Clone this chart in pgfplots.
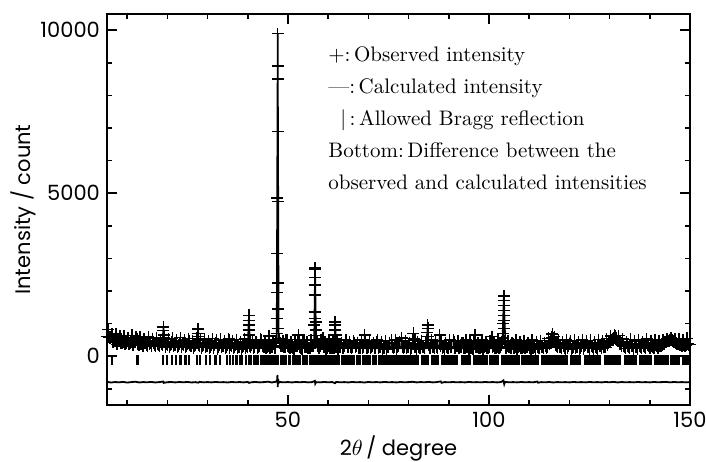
\documentclass[border=0pt]{standalone}
\usepackage{fontspec}
\usepackage{pgfplots}
\pgfplotsset{compat=1.18}
\newfontfamily\labfont{Poppins}

% observed intensity
\pgfplotstableread{
x y
5.0 595
5.5 575
6.0 575
6.5 430
7.0 450
7.5 365
8.0 460
8.5 395
9.0 430
9.5 365
10.0 455
10.5 370
11.0 420
11.5 355
12.0 430
12.5 480
12.6 540
12.7 470
13.0 330
13.5 375
14.0 305
14.5 400
15.0 325
15.5 363
16.0 302
16.5 395
17.0 313
17.5 367
18.0 305
18.5 383
18.95 540
19.0 780
19.05 900
19.1 650
19.15 450
19.5 285
20.0 333
20.5 267
21.0 365
21.2 430
21.5 303
22.0 342
22.5 280
23.0 373
23.5 292
24.0 345
24.5 283
25.0 362
25.4 470
25.5 330
26.0 313
26.5 247
27.0 345
27.55 500
27.6 700
27.65 830
27.7 600
27.75 420
28.0 322
28.5 260
29.0 353
29.5 272
30.0 325
30.5 264
31.0 343
31.5 247
32.0 400
32.5 230
33.0 329
33.5 268
34.0 307
34.5 246
35.0 340
35.3 480
35.5 259
36.0 313
36.5 252
37.0 331
37.2 410
37.5 235
38.0 284
38.5 218
39.0 317
39.5 256
40.0 295
40.15 500
40.2 800
40.25 1100
40.3 1250
40.35 960
40.4 650
40.5 320
41.0 328
41.5 247
42.0 420
42.5 240
43.0 319
43.5 500
44.0 273
44.5 260
45.0 307
45.25 450
45.3 620
45.35 400
45.5 246
46.0 286
46.5 380
47.0 450
47.2 700
47.3 1150
47.35 1950
47.38 3150
47.4 4850
47.42 6900
47.44 8500
47.46 9900
47.48 8900
47.5 4750
47.52 2250
47.55 1450
47.6 850
47.7 550
48.0 400
48.5 300
49.0 268
49.5 500
50.0 302
50.5 242
51.0 281
51.5 221
52.0 315
52.5 450
52.6 650
52.7 420
53.0 289
53.5 229
54.0 500
54.5 280
55.0 263
55.5 250
56.0 297
56.55 640
56.6 950
56.65 1360
56.7 2180
56.73 2650
56.75 2700
56.78 2420
56.8 1870
56.85 1160
56.9 1050
56.95 800
57.0 500
57.5 300
58.0 310
58.6 450
58.7 550
59.0 284
59.5 224
60.0 303
60.5 260
61.0 258
61.65 520
61.7 800
61.75 1050
61.8 950
61.85 650
61.9 430
62.0 292
62.5 232
63.0 272
63.5 250
64.0 306
64.5 480
65.0 290
65.5 280
66.0 270
66.5 400
67.0 299
67.5 250
68.0 254
68.5 240
69.0 500
69.1 650
69.2 450
69.5 260
70.0 267
70.5 240
71.0 302
71.5 250
72.0 430
72.5 240
73.0 295
73.5 230
74.0 250
74.5 220
75.0 285
75.7 400
75.8 480
76.0 270
76.5 265
77.0 230
77.5 300
78.2 450
78.3 560
78.5 280
79.0 275
79.5 240
80.0 295
80.5 230
81.1 480
81.2 700
81.3 520
81.5 290
82.0 220
82.5 285
83.0 250
83.5 265
84.0 240
84.6 480
84.7 720
84.75 950
84.8 850
84.85 600
85.0 330
85.5 250
86.0 275
86.5 240
87.0 295
87.7 450
87.75 650
87.8 480
88.0 320
88.5 250
89.0 220
89.5 285
90.0 250
90.5 265
91.2 480
91.5 240
92.0 300
92.5 250
93.0 275
93.5 400
94.0 240
94.5 295
95.0 230
95.5 250
96.0 220
96.4 450
96.5 650
96.6 420
97.0 285
97.5 250
98.0 265
98.5 230
99.0 300
99.5 240
100.0 275
100.7 450
100.8 600
101.0 320
101.5 240
102.0 295
102.5 260
103.0 350
103.5 560
103.55 700
103.6 1000
103.63 1250
103.66 1550
103.7 1850
103.73 1700
103.76 1400
103.8 1100
103.85 850
104.0 450
104.5 300
105.0 285
105.5 250
106.0 380
106.5 265
107.0 230
107.5 300
108.0 240
108.5 275
109.0 240
109.5 295
110.0 350
110.5 230
111.0 250
111.5 220
112.0 285
112.5 250
113.0 265
113.5 240
114.0 300
114.5 290
115.0 380
115.6 480
115.7 580
115.8 680
115.9 560
116.0 450
116.5 340
117.0 280
117.5 285
118.0 240
118.5 305
119.0 230
119.5 260
120.0 380
120.5 220
121.0 295
121.5 235
122.0 275
122.5 230
123.0 310
123.5 230
124.0 350
124.5 285
125.0 230
125.5 310
126.0 230
126.5 265
127.0 220
127.5 302
128.0 245
128.5 295
129.0 265
129.5 340
130.0 420
130.5 500
131.0 570
131.2 640
131.3 620
131.4 600
131.5 560
132.0 470
132.5 380
133.0 320
133.5 310
134.0 243
134.5 299
135.0 240
135.5 321
136.0 227
136.5 278
137.0 230
137.5 315
138.0 256
138.5 297
139.0 238
139.5 334
140.0 255
140.5 311
141.0 252
141.5 333
142.0 239
142.5 300
143.0 330
143.5 380
144.0 420
144.5 470
145.0 500
145.5 480
146.0 440
146.5 400
147.0 360
147.5 340
148.0 320
148.5 350
149.0 330
149.5 370
150.0 350
}\obsdata

% observed intensity, intermediate steps
\pgfplotstableread{
x y
5.25 810
5.75 570
6.25 670
6.75 450
7.25 680
7.75 470
8.25 612
8.75 418
9.25 632
9.75 418
10.25 562
10.75 388
11.25 634
11.75 430
12.25 576
12.75 382
13.25 598
13.75 383
14.25 528
14.75 350
15.25 590
15.75 388
16.25 536
16.75 344
17.25 563
17.75 351
18.25 499
18.75 328
19.25 576
19.75 374
20.25 523
20.75 331
21.25 550
21.75 338
22.25 486
22.75 314
23.25 563
23.75 361
24.25 509
24.75 318
25.25 536
25.75 324
26.25 473
26.75 301
27.25 550
27.85 348
28.25 497
28.75 305
29.25 523
29.75 311
30.25 460
30.75 289
31.25 538
31.75 337
32.25 486
32.75 295
33.25 514
33.75 303
34.25 452
34.75 281
35.25 530
35.75 329
36.25 478
36.75 287
37.25 506
37.75 295
38.25 444
38.75 273
39.25 522
39.75 321
40.6 470
40.75 279
41.25 498
41.75 287
42.25 436
42.75 265
43.25 514
43.75 313
44.25 463
44.75 272
45.15 492
45.75 281
46.25 431
46.75 260
47.9 510
48.25 309
48.75 459
49.25 268
49.75 488
50.25 277
50.75 427
51.25 256
51.75 506
52.25 305
52.75 455
53.25 264
53.75 484
54.25 273
54.75 423
55.25 252
55.75 502
56.25 301
57.25 451
57.75 260
58.25 480
58.85 269
59.25 419
59.75 248
60.25 498
60.75 297
61.25 447
61.5 256
62.25 476
62.75 266
63.25 415
63.75 245
64.25 495
64.75 295
65.25 445
65.75 255
66.25 475
66.75 265
67.25 415
67.75 245
68.25 495
68.75 295
69.25 445
69.75 255
70.25 475
70.75 265
71.25 415
71.75 245
72.25 495
72.75 295
73.25 445
73.75 255
74.25 475
74.75 265
75.25 415
76.25 245
76.75 495
77.25 295
77.75 445
78.7 255
79.25 475
79.75 265
80.25 415
80.75 245
81.6 495
81.75 295
82.25 445
82.75 255
83.25 475
83.75 265
84.25 415
85.25 245
85.75 495
86.25 295
86.75 445
87.25 255
88.25 475
88.75 265
89.25 415
89.75 245
90.25 495
90.75 295
91.35 445
91.75 255
92.25 475
92.75 265
93.25 415
93.75 245
94.25 495
94.75 295
95.25 445
95.75 255
96.25 475
96.75 265
97.25 415
97.75 245
98.25 495
98.75 295
99.25 445
99.75 255
100.25 475
100.9 265
101.25 415
101.75 245
102.25 495
102.75 295
103.25 445
104.25 255
104.75 475
105.25 265
105.75 415
106.25 245
106.75 495
107.25 295
107.75 445
108.25 255
108.75 475
109.25 265
109.75 415
110.25 245
110.75 495
111.25 295
111.75 445
112.25 255
112.75 475
113.25 265
113.75 415
114.25 250
114.75 550
115.25 450
116.25 600
116.75 310
117.25 490
117.75 270
118.25 420
118.75 250
119.25 500
119.75 300
120.25 450
120.75 260
121.25 480
121.75 270
122.25 420
122.75 250
123.25 500
123.75 300
124.25 450
124.75 265
125.25 485
125.75 275
126.25 425
126.75 255
127.25 506
127.75 308
128.25 462
128.75 290
129.25 540
129.75 390
130.25 620
130.75 530
131.25 600
131.75 570
132.25 630
132.75 360
133.25 530
133.75 290
134.25 435
134.75 265
135.25 516
135.75 317
136.25 468
136.75 279
137.25 500
137.75 291
138.25 442
138.75 273
139.25 524
139.75 325
140.25 476
140.75 287
141.25 508
141.75 299
142.25 455
142.75 300
143.25 500
143.75 420
144.25 540
144.75 460
145.25 560
145.75 470
146.25 520
146.75 370
147.25 540
147.75 370
148.25 510
148.75 320
149.25 550
149.75 350
}\obsdatab

% allowed Bragg reflections
\pgfplotstableread{
x y
6.2 -130
12.6 -130
18.9 -130
19.9 -130
21.2 -130
22.2 -130
23.3 -130
24.5 -130
25.3 -130
27.4 -130
28.2 -130
29.7 -130
30.6 -130
32.0 -130
33.2 -130
34.9 -130
35.6 -130
36.4 -130
37.2 -130
38.1 -130
38.6 -130
39.5 -130
40.3 -130
40.8 -130
41.6 -130
42.0 -130
42.5 -130
43.3 -130
43.7 -130
44.2 -130
44.9 -130
45.3 -130
45.8 -130
46.4 -130
46.9 -130
47.5 -130
48.2 -130
48.6 -130
49.1 -130
49.5 -130
50.2 -130
50.6 -130
51.3 -130
51.7 -130
52.2 -130
52.6 -130
53.1 -130
53.7 -130
54.0 -130
54.6 -130
55.4 -130
55.9 -130
56.3 -130
56.8 -130
57.3 -130
57.8 -130
58.3 -130
58.7 -130
59.3 -130
59.8 -130
60.2 -130
60.7 -130
61.3 -130
61.8 -130
62.3 -130
62.7 -130
63.4 -130
63.9 -130
64.5 -130
65.0 -130
65.4 -130
66.0 -130
66.5 -130
67.1 -130
67.5 -130
68.0 -130
68.6 -130
69.1 -130
69.6 -130
70.1 -130
70.5 -130
71.2 -130
71.6 -130
72.0 -130
72.6 -130
73.1 -130
73.5 -130
74.1 -130
74.6 -130
75.0 -130
75.5 -130
75.9 -130
76.5 -130
77.0 -130
77.4 -130
78.0 -130
78.4 -130
78.9 -130
79.4 -130
79.9 -130
80.3 -130
80.8 -130
81.3 -130
81.8 -130
82.3 -130
83.3 -130
83.7 -130
84.2 -130
84.7 -130
85.8 -130
86.2 -130
86.7 -130
87.2 -130
88.3 -130
88.7 -130
89.2 -130
89.7 -130
90.1 -130
90.6 -130
91.1 -130
91.6 -130
92.1 -130
93.3 -130
93.8 -130
94.3 -130
94.8 -130
95.2 -130
96.3 -130
96.7 -130
97.2 -130
97.7 -130
98.2 -130
98.6 -130
99.1 -130
99.5 -130
100.4 -130
100.8 -130
101.3 -130
101.7 -130
102.2 -130
103.3 -130
103.7 -130
104.2 -130
104.6 -130
105.1 -130
105.6 -130
106.0 -130
106.5 -130
107.0 -130
107.4 -130
108.3 -130
108.8 -130
109.2 -130
109.7 -130
110.2 -130
110.6 -130
111.1 -130
111.6 -130
112.1 -130
113.3 -130
113.7 -130
114.2 -130
114.7 -130
115.1 -130
115.6 -130
116.0 -130
116.5 -130
117.0 -130
117.4 -130
117.9 -130
118.4 -130
118.8 -130
119.3 -130
120.4 -130
120.9 -130
121.3 -130
121.8 -130
122.3 -130
122.7 -130
123.8 -130
124.2 -130
124.7 -130
125.2 -130
125.6 -130
126.1 -130
126.6 -130
127.0 -130
127.5 -130
128.8 -130
129.2 -130
129.7 -130
130.2 -130
130.6 -130
131.1 -130
131.6 -130
132.0 -130
132.5 -130
133.8 -130
134.2 -130
134.7 -130
135.2 -130
135.6 -130
136.1 -130
136.5 -130
137.5 -130
138.0 -130
138.4 -130
138.9 -130
139.4 -130
139.8 -130
140.3 -130
141.2 -130
141.7 -130
142.2 -130
142.6 -130
143.1 -130
143.6 -130
144.0 -130
144.5 -130
145.4 -130
145.9 -130
146.3 -130
146.8 -130
147.3 -130
148.3 -130
148.8 -130
149.2 -130
149.7 -130
}\braggdata

\begin{document}
\begin{tikzpicture}
\begin{axis}[
  scale only axis, width=291.5pt, height=195.5pt,
  xmin=5, xmax=150, ymin=-1500, ymax=10500,
  xtick={50,100,150}, minor xtick={10,20,30,40,60,70,80,90,110,120,130,140},
  ytick={0,5000,10000}, minor ytick={-1000,1000,2000,3000,4000,6000,7000,8000,9000},
  tick align=inside, major tick length=5pt, minor tick length=2.5pt,
  axis line style={line width=1pt},
  tick style={black, line width=0.8pt},
  tick label style={font=\labfont\fontsize{10.5}{12}\selectfont},
  /pgf/number format/assume math mode=true,
  /pgf/number format/1000 sep={},
  scaled y ticks=false,
  label style={font=\labfont\fontsize{10.5}{12}\selectfont},
  xlabel={2$\theta$\,/ degree},
  ylabel={Intensity / count},
  xlabel style={at={(axis description cs:0.5,-0.128)}, anchor=base},
  ylabel style={at={(axis description cs:-0.132,0.5)}, anchor=base},
]
% calculated intensity
\addplot[black, line width=0.8pt] coordinates {
(5,560)(5.5,590)(6,520)(6.5,470)(7,440)(8,415)(10,395)(12,380)(12.4,400)(12.6,520)(12.8,400)(13,370)
(15,340)(18.8,328)(19.05,900)(19.3,325)(21,320)(21.2,420)(21.4,318)(25.2,306)(25.4,460)(25.6,305)
(27.45,300)(27.65,830)(27.85,298)(30,290)(31.9,286)(32,390)(32.1,286)(35.1,280)(35.3,470)(35.5,279)
(37.1,276)(37.2,400)(37.3,276)(40.0,270)(40.3,1250)(40.55,269)(41.9,266)(42,410)(42.1,266)
(43.4,264)(43.5,490)(43.6,264)(45.15,262)(45.3,610)(45.45,261)(46.5,300)(47.2,500)(47.46,9900)
(47.7,500)(48.2,300)(49.4,258)(49.5,490)(49.6,258)(52.45,255)(52.6,640)(52.75,255)(53.9,254)
(54,490)(54.1,253)(56.5,300)(56.75,2700)(57.0,350)(57.3,251)(58.6,250)(58.7,540)(58.8,250)
(61.6,248)(61.75,1050)(61.95,247)(64.4,246)(64.5,470)(64.6,246)(66.4,245)(66.5,390)(66.6,245)
(68.95,243)(69.1,640)(69.25,243)(71.9,241)(72,420)(72.1,241)(75.6,240)(75.8,470)(75.9,240)
(78.1,240)(78.3,550)(78.4,240)(81.0,240)(81.2,690)(81.4,240)(84.5,240)(84.75,950)(85.0,300)
(85.2,240)(87.6,240)(87.75,640)(87.9,240)(91.1,240)(91.2,470)(91.3,240)(93.4,240)(93.5,390)
(93.6,240)(96.3,240)(96.5,640)(96.7,240)(100.6,240)(100.8,590)(100.9,240)(103.3,260)(103.7,1850)
(104.1,300)(104.6,245)(105.9,240)(106,370)(106.1,240)(109.9,240)(110,340)(110.1,240)(114,250)
(115,370)(115.8,670)(116.5,340)(117.3,250)(119.9,250)(120,370)(120.1,250)(123.9,252)(124,340)
(124.1,252)(128,260)(129,300)(130,420)(131,560)(131.3,610)(131.6,560)(132.5,380)(133.5,290)
(137,269)(140,275)(142,285)(143,330)(144,420)(145.3,490)(146.5,400)(147.5,340)(150,340)
};
\addplot[only marks, mark=+, mark size=3pt, black, line width=0.7pt] table {\obsdata};
\addplot[only marks, mark=+, mark size=3pt, black, line width=0.7pt] table {\obsdatab};
\addplot[only marks, mark=|, mark size=2.5pt, black, line width=1.1pt] table {\braggdata};
% difference
\addplot[black, line width=0.9pt] coordinates {
(5,-790)(6,-810)(7,-795)(8,-805)(9,-790)(10,-812)(11,-798)(12,-785)(13,-808)(14,-796)(15,-803)
(16,-792)(17,-808)(18,-797)(19,-780)(19.1,-820)(20,-800)(21,-795)(22,-806)(23,-794)(24,-804)
(25,-792)(26,-808)(27,-798)(27.7,-815)(28,-790)(29,-805)(30,-796)(31,-806)(32,-792)(33,-804)
(34,-797)(35,-808)(36,-793)(37,-803)(38,-796)(39,-806)(40,-790)(40.3,-820)(41,-800)(42,-794)
(43,-806)(44,-797)(45,-785)(46,-808)(46.8,-790)(47.3,-760)(47.4,-580)(47.46,-950)(47.55,-700)
(47.7,-820)(48,-795)(49,-803)(50,-796)(51,-807)(52,-794)(53,-802)(54,-791)(55,-806)(56,-797)
(56.7,-760)(56.8,-845)(57,-798)(58,-805)(59,-793)(60,-802)(61,-796)(61.75,-830)(62,-790)
(63,-804)(64,-797)(65,-807)(66,-793)(67,-803)(68,-797)(69,-809)(70,-794)(71,-803)(72,-796)
(73,-806)(74,-792)(75,-802)(76,-797)(77,-807)(78,-794)(79,-803)(80,-797)(81,-788)(82,-806)
(83,-795)(84,-803)(85,-790)(86,-806)(87,-797)(88,-776)(88.2,-818)(89,-796)(90,-804)(91,-794)
(92,-803)(93,-797)(94,-806)(95,-793)(96,-802)(97,-797)(98,-805)(99,-794)(100,-802)(101,-796)
(102,-806)(103,-795)(103.6,-745)(103.8,-860)(104,-792)(105,-803)(106,-797)(107,-806)(108,-794)
(109,-802)(110,-797)(111,-805)(112,-780)(112.2,-815)(113,-797)(114,-804)(115,-794)(116,-808)
(117,-796)(118,-803)(119,-797)(120,-806)(121,-793)(122,-802)(123,-797)(124,-805)(125,-794)
(126,-802)(127,-797)(128,-806)(129,-793)(130,-803)(131,-790)(132,-808)(133,-795)(134,-803)
(135,-797)(136,-805)(137,-794)(138,-802)(139,-797)(140,-806)(141,-793)(142,-802)(143,-797)
(144,-790)(145,-805)(146,-794)(147,-802)(148,-797)(149,-805)(150,-796)
};
\end{axis}
\begin{scope}[every node/.style={anchor=base west, inner sep=0pt, font=\fontsize{10.5}{12}\selectfont}]
\node at (110.5pt,171.7pt) {+:\,Observed intensity};
\node at (110.5pt,155.5pt) {---:\,Calculated intensity};
\node at (110.5pt,139.5pt) {\hspace{6pt}|\,:\,Allowed Bragg reflection};
\node at (110.5pt,123.7pt) {Bottom:\,Difference between the};
\node at (110.5pt,107.8pt) {observed and calculated intensities};
\end{scope}
\pgfresetboundingbox
\path[use as bounding box] (-53.5pt,-28pt) rectangle (299.5pt,202.5pt);
\end{tikzpicture}
\end{document}
